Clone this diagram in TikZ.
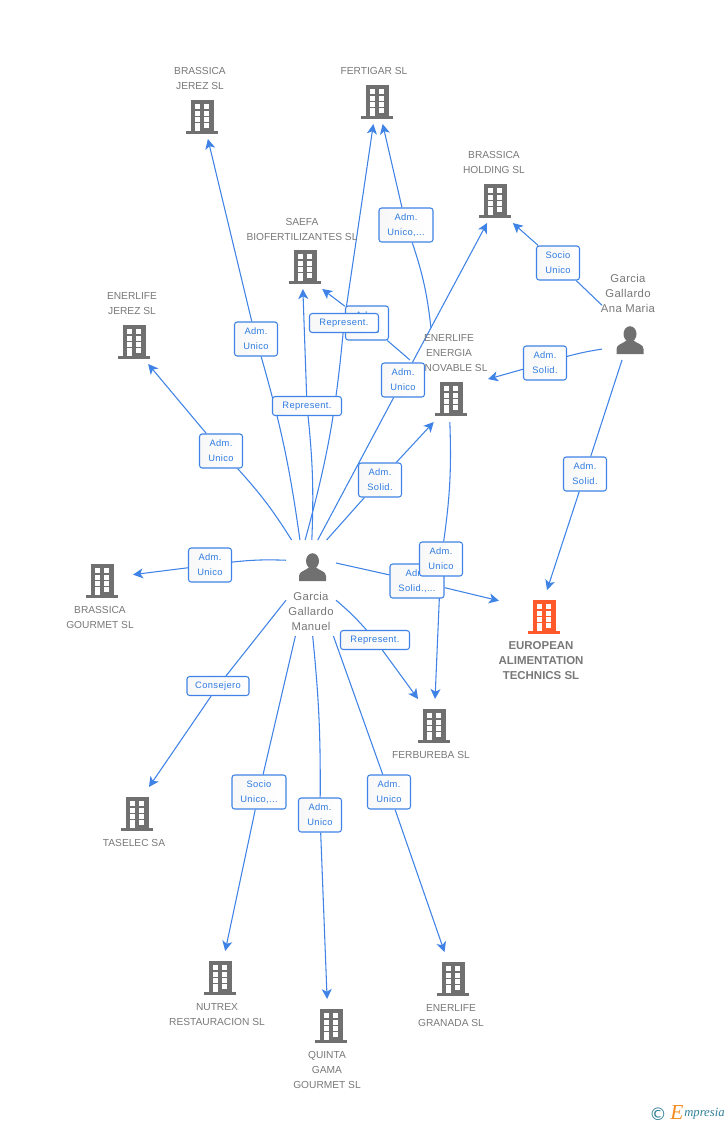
\documentclass[tikz,border=0pt]{standalone}
\usepackage{fontspec}
\setmainfont{Liberation Sans}
\newfontfamily\boxfont[LetterSpace=4]{Liberation Sans}
\newfontfamily\persfont[LetterSpace=3]{Liberation Sans}
\newfontfamily\markfont{Liberation Serif}
\newfontfamily\copyfont{DejaVu Sans}
\usetikzlibrary{arrows.meta,backgrounds}
\definecolor{linkblue}{HTML}{3F83E6}
\definecolor{boxblue}{HTML}{2F7BE0}
\definecolor{iconGray}{HTML}{707070}
\definecolor{textGray}{HTML}{787878}
\definecolor{hotOrange}{HTML}{FF5A2B}
\definecolor{markTeal}{HTML}{2F7F96}
\definecolor{markOrange}{HTML}{F58A1F}
% building icon: position, colour
\newcommand{\bldgicon}[2]{%
	\begin{scope}[shift={(#1)}]
	\fill[#2] (-11.5,-17) rectangle (11.5,15);
	\fill[#2] (-16,14) rectangle (16,17);
	\foreach \wx/\wy/\wh in {-7/-13/5,2/-13/5,-7/-6/4.5,2/-6/4.5,-7/0/5,2/0/5,2/6/5,-7/6/8}
	\fill[white] (\wx,\wy) rectangle ++(5,\wh);
	\end{scope}}
% person icon
\newcommand{\persicon}[1]{%
	\begin{scope}[shift={(#1)}]
	\fill[iconGray] (0,-6) ellipse (6.5 and 7.8);
	\fill[iconGray] (-13.5,14) -- (-13.5,9) .. controls (-13.5,4) and (-7,4) .. (-3,0)
		-- (3,0) .. controls (7,4) and (13.5,4) .. (13.5,9) -- (13.5,14) -- cycle;
	\end{scope}}
\tikzset{
	sitebox/.style={rectangle,inner sep=0pt,outer sep=0pt,minimum width=46.5pt,minimum height=36.75pt},
	entbox/.style={rectangle,inner sep=0pt,outer sep=0pt},
	sitetxt/.style={align=center,text=textGray,font=\fontsize{7.65}{11.25}\selectfont},
	perstxt/.style={align=center,text=textGray,font=\fontsize{8.5}{11.25}\persfont},
	hottxt/.style={align=center,text=textGray,font=\fontsize{8.6}{11.25}\selectfont\bfseries},
	lblbox/.style={rectangle,rounded corners=2pt,draw=linkblue,line width=0.8pt,
		left color=black!3,right color=white,align=center,text=boxblue,inner sep=0pt,
		minimum width=#1*0.75pt,font=\fontsize{7}{11.25}\boxfont},
	lblA/.style={lblbox=43,minimum height=25.5pt},
	lblW/.style={lblbox=54,minimum height=25.5pt},
	lblS/.style={lblbox=#1,minimum height=14.25pt},
	linkline/.style={draw=linkblue,line width=0.8pt},
	linkarrow/.style={linkline,-{Stealth[length=7.5pt,width=7.5pt,inset=2pt]}}
}
\begin{document}
\begin{tikzpicture}[x=0.75pt,y=-0.75pt]
	\useasboundingbox (0,0) rectangle (728,1125);
	% sites
	\foreach \nm/\x/\y/\tx/\ty/\txt in {%
		sBJ/202/117/200/78.5/{BRASSICA\\JEREZ SL},
		sFE/377/102/374/71/{FERTIGAR SL},
		sBH/495/201/494/162.5/{BRASSICA\\HOLDING SL},
		sSA/305/267/302/229.5/{SAEFA\\BIOFERTILIZANTES SL},
		sEJ/134/342/132/303.5/{ENERLIFE\\JEREZ SL},
		sBG/102/581/100/617.5/{BRASSICA\\GOURMET SL},
		sTA/137/814/134/843/{TASELEC SA},
		sFB/434/726/431/755/{FERBUREBA SL},
		sNU/220/978/217/1014.5/{NUTREX\\RESTAURACION SL},
		sQG/331/1026/327/1070/{QUINTA\\GAMA\\GOURMET SL},
		sEG/453/979/451/1015.5/{ENERLIFE\\GRANADA SL}}
	{
		\node[sitebox] (\nm) at (\x,\y-2.5) {};
		\bldgicon{\x,\y}{iconGray}
		\node[sitetxt] (\nm t) at (\tx,\ty) {\txt};
	}
	\node[entbox,minimum width=58.5pt,minimum height=70.5pt] (sEE) at (449,375) {};
	\bldgicon{451,399}{iconGray}
	\node[sitetxt] (sEEt) at (449,353) {ENERLIFE\\ENERGIA\\RENOVABLE SL};
	\node[sitebox,minimum width=67.5pt] (sEU) at (544,614.5) {};
	\bldgicon{544,617}{hotOrange}
	\node[hottxt] (sEUt) at (541,661) {EUROPEAN\\ALIMENTATION\\TECHNICS SL};
	% people
	\node[entbox,minimum width=37.5pt,minimum height=72pt] (pM) at (311,588) {};
	\persicon{312.5,567}
	\node[perstxt] (pMt) at (311,611) {Garcia\\Gallardo\\Manuel};
	\node[entbox,minimum width=42pt,minimum height=48pt] (pA) at (630,328) {};
	\persicon{630,340}
	\node[perstxt] (pAt) at (628,293) {Garcia\\Gallardo\\Ana Maria};
	% link labels
	\node[lblA] (l1) at (256,339) {Adm.\\Unico};
	\node[lblA] (l2) at (221,451) {Adm.\\Unico};
	\node[lblA] (l3) at (210,565) {Adm.\\Unico};
	\node[lblS=62] (l4) at (218,686) {Consejero};
	\node[lblW] (l5) at (259,792) {Socio\\Unico,...};
	\node[lblA] (l6) at (320,815) {Adm.\\Unico};
	\node[lblA] (l7) at (389,792) {Adm.\\Unico};
	\node[lblS=69] (l8) at (375,640) {Represent.};
	\node[lblW] (l9) at (417,581) {Adm.\\Solid.,...};
	\node[lblA] (l10) at (380,480) {Adm.\\Solid.};
	\node[lblA] (l11) at (403,380) {Adm.\\Unico};
	\node[lblS=69] (l12) at (307,406) {Represent.};
	\node[lblA] (l15) at (367,323) {Adm.\\Unico};
	\node[lblS=69] (l13) at (344,323) {Represent.};
	\node[lblW] (l14) at (406,225) {Adm.\\Unico,...};
	\node[lblA] (l16) at (441,559) {Adm.\\Unico};
	\node[lblA] (l17) at (558,263) {Socio\\Unico};
	\node[lblA] (l18) at (545,363) {Adm.\\Solid.};
	\node[lblA] (l19) at (585,474) {Adm.\\Solid.};
	% links
	\begin{pgfonlayer}{background}
	\foreach \i/\l/\j/\b in {% start/label/end/bend
		pM.103/l1/sBJ/-4,
		pM.112/l2/sEJ.300/-5,
		pM.132/l3/sBG/-4,
		pM.206/l4/sTA.64/0,
		pM.252/l5/sNU/0,
		pM.272/l6/sQG.99/3,
		pM.295/l7/sEG/0,
		pM.334/l8/sFB.123/4,
		pM.45/l9/sEU.163/0,
		pM.72/l10/sEE.252/0,
		pM.82/l11/sBH.252/0,
		pM.89/l12/sSA.265/-4,
		pM.97/l13/sFE/-5,
		sEE.111/l14/sFE/-6,
		sEE.159/l15/sSA.305/0,
		sEE.271/l16/sFB/5,
		pA.141/l17/sBH.306/0,
		pA.217/l18/sEE.354/-3,
		pA.256/l19/sEU.83/0}
	{
		\draw[linkline] (\i) to[bend left=\b] (\l);
		\draw[linkarrow] (\l) -- (\j);
	}
	\end{pgfonlayer}
	% mark
	\node[inner sep=0pt,text=markTeal,font=\fontsize{13}{13}\copyfont] (mkC) at (658,1114) {©};
	\node[inner sep=0pt,text=markOrange,font=\fontsize{16}{16}\markfont\itshape] (mkE) at (677,1113) {E};
	\node[inner sep=0pt,anchor=west,text=markTeal,font=\fontsize{9.5}{10}\markfont\itshape] (mkT) at (684,1114) {mpresia};
\end{tikzpicture}
\end{document}
